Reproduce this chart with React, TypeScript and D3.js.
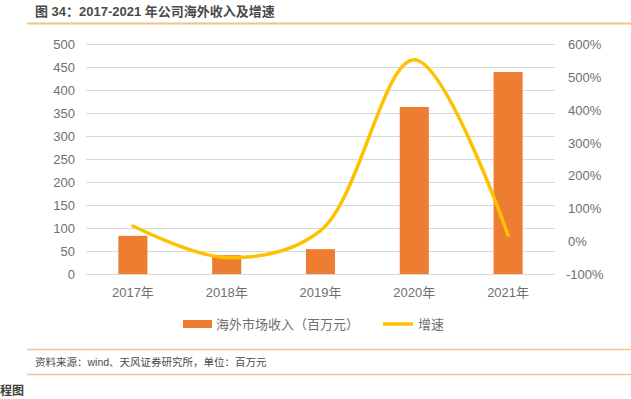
import React, { useEffect, useRef } from 'react';
import * as d3 from 'd3';

const years = ['2017年', '2018年', '2019年', '2020年', '2021年'];
const revenue = [83, 41, 54, 363, 439];
const growth = [46, -50, 32, 552, 18];
const leftTicks = [0, 50, 100, 150, 200, 250, 300, 350, 400, 450, 500];
const rightTicks = [-100, 0, 100, 200, 300, 400, 500, 600];

const FONT = "'Liberation Sans', 'Noto Sans CJK SC', sans-serif";

const App = () => {
  const svgRef = useRef<SVGSVGElement>(null);

  useEffect(() => {
    const width = 631;
    const height = 399;
    const svg = d3.select(svgRef.current).attr('width', width).attr('height', height);
    svg.selectAll('*').remove();

    // title + rules
    svg.append('text')
      .attr('x', 35).attr('y', 16)
      .attr('font-family', FONT).attr('font-size', 13).attr('font-weight', 'bold')
      .attr('fill', '#4a4a4a')
      .text('图 34：2017-2021 年公司海外收入及增速');
    svg.append('line').attr('x1', 27).attr('x2', width).attr('y1', 23.5).attr('y2', 23.5)
      .attr('stroke', '#f6c08f').attr('stroke-width', 2);

    const x = d3.scaleBand().domain(years).range([86, 555]).paddingInner(0.69).paddingOuter(0.345);
    const yL = d3.scaleLinear().domain([0, 500]).range([274, 44]);
    const yR = d3.scaleLinear().domain([-100, 600]).range([274, 44]);

    // grid
    svg.append('g').selectAll('line').data(leftTicks).enter().append('line')
      .attr('x1', 86).attr('x2', 555)
      .attr('y1', d => Math.round(yL(d)) + 0.5).attr('y2', d => Math.round(yL(d)) + 0.5)
      .attr('stroke', '#d9d9d9').attr('stroke-width', 1);

    // left axis labels
    svg.append('g').selectAll('text').data(leftTicks).enter().append('text')
      .attr('x', 75).attr('y', d => yL(d) + 5)
      .attr('text-anchor', 'end')
      .attr('font-family', FONT).attr('font-size', 13).attr('fill', '#6f6f6f')
      .text(d => d);

    // right axis labels
    svg.append('g').selectAll('text').data(rightTicks).enter().append('text')
      .attr('x', d => (d < 0 ? 566 : 568)).attr('y', d => yR(d) + 5)
      .attr('font-family', FONT).attr('font-size', 13).attr('fill', '#6f6f6f')
      .text(d => `${d}%`);

    // bars
    svg.append('g').selectAll('rect').data(revenue).enter().append('rect')
      .attr('x', (d, i) => x(years[i]) as number)
      .attr('width', x.bandwidth())
      .attr('y', d => yL(d))
      .attr('height', d => yL(0) - yL(d))
      .attr('fill', '#ED7D31');

    // growth line
    const line = d3.line<number>()
      .x((d, i) => (x(years[i]) as number) + x.bandwidth() / 2)
      .y(d => yR(d))
      .curve(d3.curveCatmullRom.alpha(0.5));
    svg.append('path').datum(growth)
      .attr('d', line)
      .attr('fill', 'none').attr('stroke', '#FFC000').attr('stroke-width', 3.5)
      .attr('stroke-linecap', 'round');

    // x labels
    svg.append('g').selectAll('text').data(years).enter().append('text')
      .attr('x', d => (x(d) as number) + x.bandwidth() / 2).attr('y', 297)
      .attr('text-anchor', 'middle')
      .attr('font-family', FONT).attr('font-size', 13).attr('fill', '#6f6f6f')
      .text(d => d);

    // legend
    const lg = svg.append('g').attr('font-family', FONT).attr('font-size', 13).attr('fill', '#6f6f6f');
    lg.append('rect').attr('x', 183).attr('y', 320).attr('width', 29).attr('height', 8).attr('fill', '#ED7D31');
    lg.append('text').attr('x', 216).attr('y', 329).text('海外市场收入（百万元）');
    lg.append('line').attr('x1', 383).attr('x2', 413).attr('y1', 324).attr('y2', 324)
      .attr('stroke', '#FFC000').attr('stroke-width', 3.5);
    lg.append('text').attr('x', 418).attr('y', 329).text('增速');

    // source
    svg.append('line').attr('x1', 27).attr('x2', width).attr('y1', 349.5).attr('y2', 349.5)
      .attr('stroke', '#f6c08f').attr('stroke-width', 1.5);
    svg.append('text').attr('x', 35).attr('y', 366)
      .attr('font-family', FONT).attr('font-size', 10.5).attr('fill', '#4a4a4a')
      .text('资料来源：wind、天风证券研究所，单位：百万元');
    svg.append('line').attr('x1', 27).attr('x2', width).attr('y1', 374.5).attr('y2', 374.5)
      .attr('stroke', '#f6c08f').attr('stroke-width', 1.5);
    svg.append('text').attr('x', 0).attr('y', 395)
      .attr('font-family', FONT).attr('font-size', 12).attr('font-weight', 'bold').attr('fill', '#404040')
      .text('程图');
  }, []);

  return (
    <svg ref={svgRef} style={{ position: 'absolute', left: 0, top: 0, background: '#fff' }} />
  );
};

export default App;
